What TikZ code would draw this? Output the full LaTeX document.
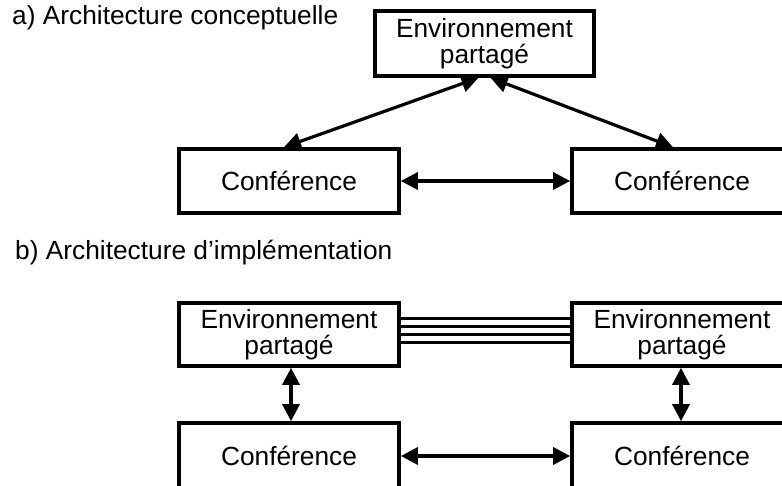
\documentclass[tikz,border=0pt]{standalone}
\usepackage{fontspec}
\setmainfont{Liberation Sans}
\usetikzlibrary{arrows.meta}
\begin{document}
\begin{tikzpicture}[x=1pt,y=-1pt,
  box/.style={draw, line width=3.6pt, minimum width=220pt, inner sep=0pt,
    font=\fontsize{26.3}{26}\selectfont, align=center},
  link/.style={line width=3.2pt,
    {Triangle[length=17pt,width=17pt]}-{Triangle[length=17pt,width=17pt]}},
  wire/.style={line width=3pt},
  caption/.style={anchor=base west, inner sep=0pt,
    font=\fontsize{26.3}{26}\selectfont}]
\clip (0,0) rectangle (782,486);

% a) conceptual architecture
\node[caption] (capA) at (12,25) {a) Architecture conceptuelle};
\node[box, minimum width=219pt, minimum height=65pt] (env) at (484.5,43.5) {Environnement\\partagé};
\node[box, minimum height=64pt] (confA) at (289,181) {Conférence};
\node[box, minimum height=64pt] (confB) at (682,181) {Conférence};
\draw[link] ([xshift=-6pt]env.south) -- ([xshift=-5pt]confA.north);
\draw[link] ([xshift=6pt]env.south) -- ([xshift=-9pt]confB.north);
\draw[link] (confA) -- (confB);

% b) implementation architecture
\node[caption] (capB) at (15,260) {b) Architecture d’implémentation};
\node[box, minimum height=63pt] (envL) at (289,334.5) {Environnement\\partagé};
\node[box, minimum height=63pt] (envR) at (682,334.5) {Environnement\\partagé};
\node[box, minimum height=66pt] (confL) at (289,456) {Conférence};
\node[box, minimum height=66pt] (confR) at (682,456) {Conférence};
\foreach \s in {16,8,0,-8}
  \draw[wire] ([yshift=\s pt]envL.east) -- ([yshift=\s pt]envR.west);
\draw[link] ([xshift=2pt]envL.south) -- ([xshift=2pt]confL.north);
\draw[link] ([xshift=-1pt]envR.south) -- ([xshift=-1pt]confR.north);
\draw[link] (confL) -- (confR);
\end{tikzpicture}
\end{document}
